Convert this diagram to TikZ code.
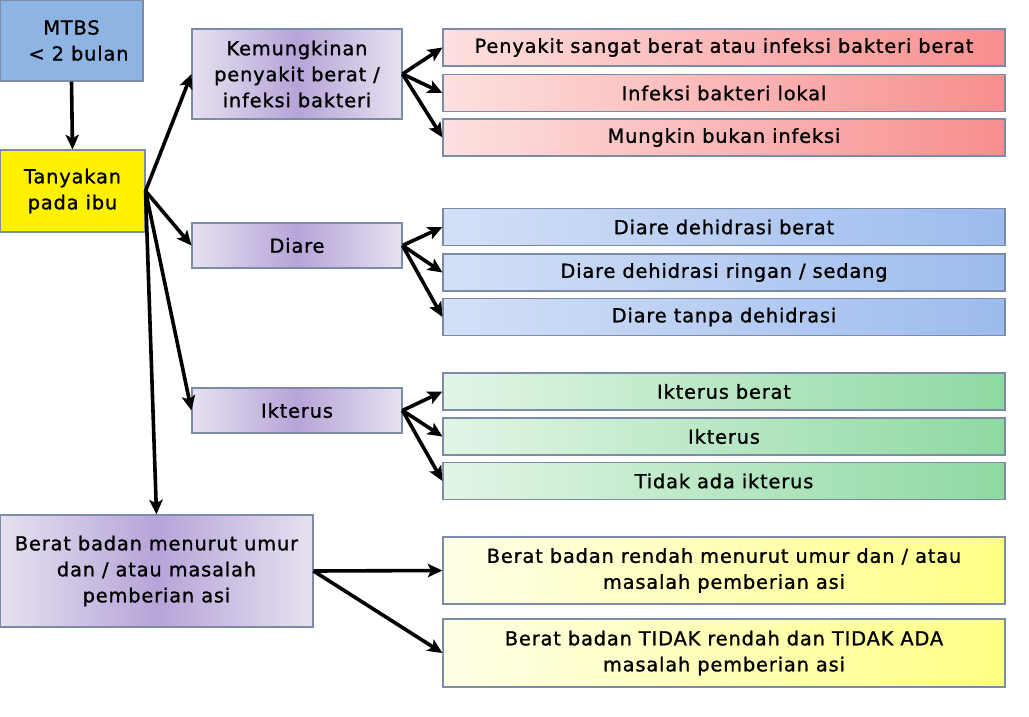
\documentclass[tikz,border=0pt]{standalone}
\usepackage{fontspec}
\setmainfont{DejaVu Sans}[LetterSpace=4.5,FakeBold=1.2]
\usetikzlibrary{arrows.meta}
\definecolor{bordc}{HTML}{7C8CA6}
\definecolor{mtbs}{HTML}{8DB4E2}
\definecolor{purE}{HTML}{E6E1F0}
\definecolor{purC}{HTML}{B6A4D8}
\definecolor{redL}{HTML}{FDE0E0}
\definecolor{redR}{HTML}{F88E8E}
\definecolor{bluL}{HTML}{D3E0F7}
\definecolor{bluR}{HTML}{9CBBEE}
\definecolor{grnL}{HTML}{E2F5E6}
\definecolor{grnR}{HTML}{8ED9A2}
\definecolor{yelL}{HTML}{FFFFE8}
\definecolor{yelR}{HTML}{FFFF85}
\tikzset{
  box/.style={draw=bordc, line width=0.8pt, inner sep=0pt, align=center,
    font=\fontsize{14.5}{19.5}\selectfont},
  purbox/.style={box, left color=purE, right color=purE, middle color=purC},
  redbox/.style={box, left color=redL, right color=redR, minimum width=421.5pt, minimum height=27.75pt},
  blubox/.style={box, left color=bluL, right color=bluR, minimum width=421.5pt, minimum height=27.75pt},
  grnbox/.style={box, left color=grnL, right color=grnR, minimum width=421.5pt, minimum height=27.75pt},
  yelbox/.style={box, left color=yelL, right color=yelR, minimum width=421.5pt},
  arr/.style={line width=2.7pt, -{Stealth[length=11pt,width=10pt,inset=2.5pt]}},
}
\begin{document}
\begin{tikzpicture}[x=0.75pt,y=-0.75pt]
\useasboundingbox (0,0) rectangle (1029,717);
\node[box, fill=mtbs, minimum width=107.25pt, minimum height=60.75pt] (mtbs) at (71.5,40.5) {MTBS\\\ \ < 2 bulan};
\node[box, fill=yellow, minimum width=108.75pt, minimum height=61.5pt] (tany) at (72.5,191) {Tanyakan\\pada ibu};
\node[purbox, minimum width=157.5pt, minimum height=67.5pt] (kem) at (297,74) {Kemungkinan\\penyakit berat /\\infeksi bakteri};
\node[purbox, minimum width=157.5pt, minimum height=33.75pt] (diare) at (297,245.5) {Diare};
\node[purbox, minimum width=157.5pt, minimum height=33.75pt] (ikt) at (297,410.5) {Ikterus};
\node[purbox, minimum width=234.75pt, minimum height=84pt] (bb) at (156.5,571) {Berat badan menurut umur\\dan / atau masalah\\pemberian asi};

\node[redbox] (r1) at (724,47.5) {Penyakit sangat berat atau infeksi bakteri berat};
\node[redbox] (r2) at (724,93) {Infeksi bakteri lokal};
\node[redbox] (r3) at (724,137.5) {Mungkin bukan infeksi};

\node[blubox] (b1) at (724,227) {Diare dehidrasi berat};
\node[blubox] (b2) at (724,272.5) {Diare dehidrasi ringan / sedang};
\node[blubox] (b3) at (724,317) {Diare tanpa dehidrasi};

\node[grnbox] (g1) at (724,391.5) {Ikterus berat};
\node[grnbox] (g2) at (724,436.5) {Ikterus};
\node[grnbox] (g3) at (724,481) {Tidak ada ikterus};

\node[yelbox, minimum height=50.25pt] (y1) at (724,570.5) {Berat badan rendah menurut umur dan / atau\\masalah pemberian asi};
\node[yelbox, minimum height=51pt] (y2) at (724,653) {Berat badan TIDAK rendah dan TIDAK ADA\\masalah pemberian asi};

\draw[arr] (mtbs.south) -- (tany.north);
\draw[arr] (tany.east) -- (kem.west);
\draw[arr] (tany.east) -- (diare.west);
\draw[arr] (tany.east) -- (ikt.west);
\draw[arr] (tany.east) -- (bb.north);
\foreach \t in {r1,r2,r3} \draw[arr] (kem.east) -- (\t.west);
\foreach \t in {b1,b2,b3} \draw[arr] (diare.east) -- (\t.west);
\foreach \t in {g1,g2,g3} \draw[arr] (ikt.east) -- (\t.west);
\draw[arr] (bb.east) -- (y1.west);
\draw[arr] (bb.east) -- (y2.west);
\end{tikzpicture}
\end{document}
